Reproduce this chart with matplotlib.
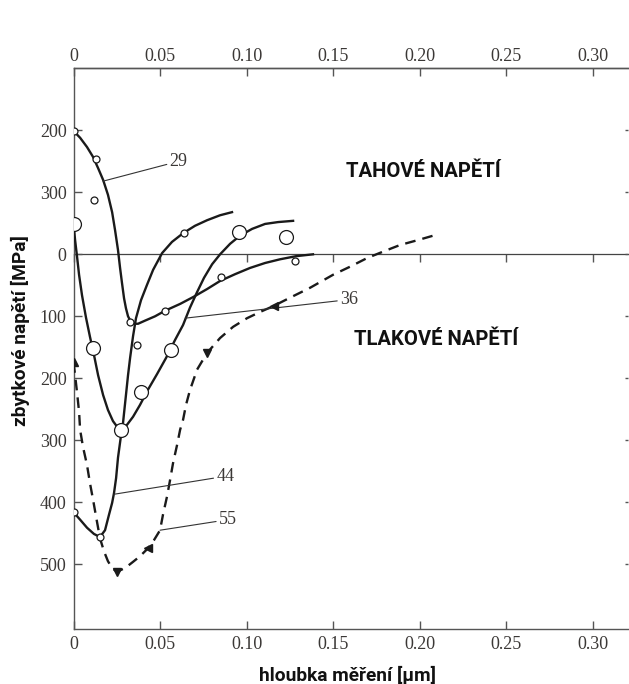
import matplotlib
matplotlib.use("Agg")
import matplotlib.pyplot as plt

# hloubka [um] / napeti [MPa], tlakove kladne (osa dolu)
x29 = [0, 0.0038, 0.0078, 0.0113, 0.0142, 0.0171, 0.0199, 0.0223, 0.0240, 0.0257, 0.0269, 0.0280,
       0.0292, 0.0303, 0.0315, 0.0332, 0.0350, 0.0373, 0.0413, 0.0471, 0.0529, 0.0616, 0.0691,
       0.0772, 0.0847, 0.0934, 0.1020, 0.1107, 0.1194, 0.1286, 0.1384]
y29 = [-199, -188, -173, -157, -139, -120, -96, -68, -39, -7, 22, 46, 71, 87, 100, 109, 112, 112,
       107, 100, 91, 80, 69, 56, 43, 32, 22, 14, 8, 3, 0]
px29 = [0, 0.013, 0.0118, 0.0327, 0.0529, 0.0853, 0.128]
py29 = [-199, -154, -88, 109, 92, 37, 11]

x36 = [0, 0.0009, 0.0020, 0.0032, 0.0049, 0.0072, 0.0095, 0.0118, 0.0142, 0.0171, 0.0199, 0.0228,
       0.0257, 0.0280, 0.0309, 0.0344, 0.0384, 0.0431, 0.0483, 0.0535, 0.0587, 0.0633, 0.0673,
       0.0714, 0.0754, 0.0801, 0.0847, 0.0905, 0.0962, 0.1032, 0.1107, 0.1182, 0.1269]
y36 = [-49, -23, 3, 33, 66, 102, 133, 162, 195, 227, 251, 269, 280, 283, 275, 262, 243, 218, 193,
       167, 138, 114, 86, 61, 38, 16, 0, -17, -30, -41, -49, -52, -54]
px36 = [0, 0.0113, 0.0275, 0.039, 0.0564, 0.0957, 0.1228]
py36 = [-49, 151, 283, 222, 154, -36, -28]

x44 = [0, 0.0038, 0.0078, 0.0118, 0.0153, 0.0182, 0.0205, 0.0223, 0.0234, 0.0246, 0.0257, 0.0275,
       0.0286, 0.0303, 0.0315, 0.0327, 0.0344, 0.0361, 0.0390, 0.0425, 0.0460, 0.0512, 0.0569,
       0.0633, 0.0702, 0.0772, 0.0847, 0.0916]
y44 = [416, 428, 441, 451, 456, 445, 420, 401, 385, 361, 328, 291, 272, 227, 195, 167, 132, 103,
       74, 49, 25, -2, -20, -34, -46, -55, -63, -68]
px44 = [0, 0.0153, 0.0367, 0.0639]
py44 = [415, 456, 146, -34]

x55 = [0, 0.0009, 0.0020, 0.0032, 0.0038, 0.0055, 0.0078, 0.0095, 0.0113, 0.0136, 0.0153, 0.0176,
       0.0199, 0.0223, 0.0251, 0.0298, 0.0344, 0.0384, 0.0431, 0.0465, 0.0500, 0.0517, 0.0540,
       0.0558, 0.0575, 0.0598, 0.0616, 0.0633, 0.0650, 0.0673, 0.0714, 0.0772, 0.0847, 0.0922,
       0.1003, 0.1078, 0.1159, 0.1251, 0.1367, 0.1500, 0.1598, 0.1697, 0.1795, 0.1887, 0.1991, 0.2090]
y55 = [174, 195, 222, 254, 283, 311, 340, 369, 396, 432, 458, 479, 495, 506, 512, 506, 496, 487,
       474, 461, 445, 420, 391, 364, 337, 308, 283, 267, 243, 219, 186, 159, 135, 117, 103, 93, 83,
       70, 54, 33, 20, 6, -5, -15, -23, -31]
px55 = [0, 0.0251, 0.0431, 0.0772, 0.1159]
py55 = [174, 512, 474, 159, 83]
m55 = ['^', 'v', '<', 'v', '<']

xticks = [0, 0.05, 0.10, 0.15, 0.20, 0.25, 0.30]
xticklabels = ['0', '0.05', '0.10', '0.15', '0.20', '0.25', '0.30']
yticks = [-200, -100, 0, 100, 200, 300, 400, 500]
yticklabels = ['200', '300', '0', '100', '200', '300', '400', '500']

tick_col = '#3b3836'
line_col = '#1a1a1a'
spine_col = '#555555'
serif = 'Liberation Serif'

fig = plt.figure(figsize=(6.29, 6.84), dpi=100)
ax = fig.add_axes([0.1169, 0.0808, 0.8816, 0.8205])
ax.set_xlim(0, 0.3205)
ax.set_ylim(603.9, -301.3)

# krivky
ax.plot(x29, y29, color=line_col, lw=1.7, zorder=3)
ax.plot(px29, py29, 'o', ms=5, mfc='white', mec=line_col, mew=0.9, zorder=4)
ax.plot(x36, y36, color=line_col, lw=1.7, zorder=3)
ax.plot(px36, py36, 'o', ms=10, mfc='white', mec=line_col, mew=0.9, zorder=4)
ax.plot(x44, y44, color=line_col, lw=1.7, zorder=3)
ax.plot(px44, py44, 'o', ms=5, mfc='white', mec=line_col, mew=0.9, zorder=4)
ax.plot(x55, y55, color=line_col, lw=1.7, ls=(0, (4.5, 3)), zorder=3)
for xx, yy, mm in zip(px55, py55, m55):
    ax.plot(xx, yy, mm, ms=6, color=line_col, zorder=4)

# popisky krivek
lab_kw = dict(fontsize=13, family=serif, color=tick_col, va='center', ha='left',
              arrowprops=dict(arrowstyle='-', color='#333333', lw=0.8, shrinkA=0, shrinkB=0))
ax.annotate('29', xy=(0.0171, -118), xytext=(0.0555, -150), **lab_kw)
ax.annotate('36', xy=(0.0645, 103), xytext=(0.1540, 73), **lab_kw)
ax.annotate('44', xy=(0.0234, 387), xytext=(0.0825, 358), **lab_kw)
ax.annotate('55', xy=(0.05, 445), xytext=(0.0840, 428), **lab_kw)

ax.text(0.2020, -134, 'TAHOVÉ NAPĚTÍ', fontsize=14.6, fontweight='bold', family='Roboto',
        ha='center', va='center', color='#111111')
ax.text(0.2095, 137, 'TLAKOVÉ NAPĚTÍ', fontsize=14.6, fontweight='bold', family='Roboto',
        ha='center', va='center', color='#111111')

# osy
for s in ['left', 'top', 'bottom']:
    ax.spines[s].set_color(spine_col)
    ax.spines[s].set_linewidth(1.0)
ax.spines['right'].set_visible(False)

ax.set_xticks(xticks)
ax.set_xticklabels(xticklabels, family=serif)
ax.set_yticks(yticks)
ax.set_yticklabels(yticklabels, family=serif)
ax.tick_params(axis='both', direction='in', length=6, width=1.0, color=spine_col,
               labelsize=13, labelcolor=tick_col, pad=5)
ax.tick_params(axis='y', right=True, labelright=False)
for t in ax.yaxis.get_major_ticks():
    t.tick2line.set_markersize(2)

# horni osa
top = ax.secondary_xaxis('top')
top.set_xticks(xticks)
top.set_xticklabels(xticklabels, family=serif)
top.tick_params(direction='in', length=6, width=1.0, color=spine_col,
                labelsize=13, labelcolor=tick_col, pad=1.5)
top.spines['top'].set_color(spine_col)
top.spines['top'].set_linewidth(1.0)

# nulova cara s ryskami
sec = ax.secondary_xaxis(0, transform=ax.transData)
sec.set_xticks(xticks)
sec.tick_params(direction='out', length=6, width=1.0, color=spine_col, labelbottom=False)
sec.spines['bottom'].set_color('#444444')
sec.spines['bottom'].set_linewidth(0.9)

fig.text(20 / 629, 1 - 331 / 684, 'zbytkové napětí [MPa]', rotation=90, fontsize=13.8,
         fontweight='bold', family='Roboto', ha='center', va='center', color='#111111')
fig.text(347 / 629, 1 - 675 / 684, 'hloubka měření [µm]', fontsize=13.8,
         fontweight='bold', family='Roboto', ha='center', va='center', color='#111111')

fig.savefig('out.png', dpi=100, facecolor='white')
